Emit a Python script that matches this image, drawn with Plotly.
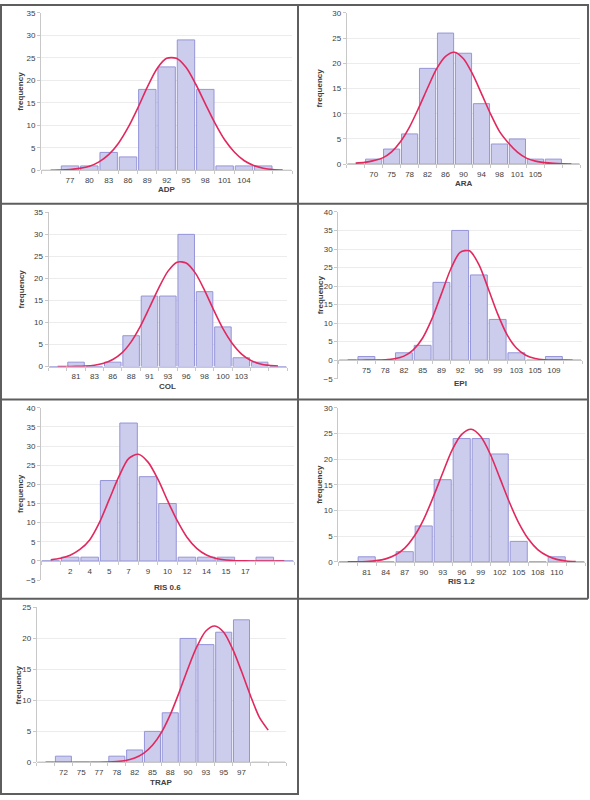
import plotly.graph_objects as go

W, H = 590, 800

# ---------------- data ----------------
# fitted-curve values are read at every half category (0, 0.5, 1, ... 12)
ADP_labels = ["", "77", "80", "83", "86", "89", "92", "95", "98", "101", "104", "", ""]
ADP_freq = [0, 1, 1, 4, 3, 18, 23, 29, 18, 1, 1, 1, 0]
ADP_curve = [0.03, 0.08, 0.2, 0.45, 0.9, 1.9, 3.5, 6.0, 9.5, 13.8, 18.5, 22.6, 24.9,
             24.9, 22.9, 19.2, 14.8, 10.5, 6.8, 4.1, 2.2, 1.1, 0.5, 0.2, 0.08]

ARA_labels = ["", "70", "75", "78", "82", "86", "90", "94", "98", "101", "105", "", ""]
ARA_freq = [0, 1, 3, 6, 19, 26, 22, 12, 4, 5, 1, 1, 0]
ARA_curve = [0.2, 0.35, 0.7, 1.25, 2.45, 4.5, 7.4, 11.1, 15.1, 18.9, 21.4, 22.2, 20.9,
             17.9, 14.0, 10.0, 6.5, 4.2, 2.4, 1.2, 0.6, 0.3, 0.15, 0.07, 0.03]

COL_labels = ["", "81", "83", "86", "88", "91", "93", "96", "98", "100", "103", "", ""]
COL_freq = [0, 1, 0, 1, 7, 16, 16, 30, 17, 9, 2, 1, 0]
COL_curve = [0.0, 0.01, 0.04, 0.11, 0.3, 0.73, 1.6, 3.1, 5.6, 9.1, 13.4, 17.8, 21.6,
             23.7, 23.5, 21.2, 17.3, 12.8, 8.6, 5.3, 2.9, 1.45, 0.66, 0.27, 0.1]

EPI_labels = ["", "75", "78", "82", "85", "89", "92", "96", "99", "103", "105", "109", ""]
EPI_freq = [0, 1, 0, 2, 4, 21, 35, 23, 11, 2, 0, 1, 0]
EPI_curve = [0.0, 0.0, 0.01, 0.03, 0.11, 0.38, 1.1, 2.8, 6.0, 11.2, 17.9, 24.6, 29.1,
             29.5, 25.8, 19.3, 12.5, 6.9, 3.3, 1.35, 0.47, 0.14, 0.04, 0.01, 0.0]

RIS06_labels = ["", "2", "4", "5", "7", "9", "10", "12", "14", "15", "17", "", ""]
RIS06_freq = [0, 1, 1, 21, 36, 22, 15, 1, 1, 1, 0, 1, 0]
RIS06_curve = [0.3, 0.7, 1.5, 3.0, 5.5, 10.0, 16.0, 22.0, 26.7, 27.85, 25.8, 21.4, 15.8,
               10.5, 6.2, 3.3, 1.55, 0.66, 0.25, 0.08, 0.02, 0.0, 0.0, 0.0, 0.0]

RIS12_labels = ["", "81", "84", "87", "90", "93", "96", "99", "102", "105", "108", "110", ""]
RIS12_freq = [0, 1, 0, 2, 7, 16, 24, 24, 21, 4, 0, 1, 0]
RIS12_curve = [0.01, 0.03, 0.1, 0.25, 0.6, 1.35, 2.7, 5.0, 8.3, 12.6, 17.3, 21.8, 24.8,
               25.8, 24.4, 21.0, 16.4, 11.7, 7.6, 4.5, 2.4, 1.2, 0.5, 0.2, 0.08]

TRAP_labels = ["", "72", "75", "77", "78", "82", "85", "88", "90", "93", "95", "97", "", ""]
TRAP_freq = [0, 1, 0, 0, 1, 2, 5, 8, 20, 19, 21, 23, 0, 0]
TRAP_curve = [0.0, 0.0, 0.0, 0.0, 0.0, 0.01, 0.02, 0.05, 0.13, 0.31, 0.7, 1.45, 2.76,
              4.8, 7.7, 11.3, 15.2, 18.7, 21.2, 22.0, 21.0, 18.3, 14.7, 10.8, 7.3]
TRAP_curve_end = 5.2

# ---------------- layout config (pixel boxes) ----------------
panels = [
    dict(title="ADP", labels=ADP_labels, freq=ADP_freq, curve=ADP_curve,
         yr=(0, 35), px=(41, 292.3), py=(9, 168.3), ytx=21, tty=188),
    dict(title="ARA", labels=ARA_labels, freq=ARA_freq, curve=ARA_curve,
         yr=(0, 30), px=(346.7, 580.3), py=(9, 162), ytx=320, tty=182),
    dict(title="COL", labels=COL_labels, freq=COL_freq, curve=COL_curve,
         yr=(0, 35), px=(48.5, 287.2), py=(210.7, 366.7), ytx=21, tty=387),
    dict(title="EPI", labels=EPI_labels, freq=EPI_freq, curve=EPI_curve,
         yr=(-5, 40), px=(338.3, 582), py=(210.3, 379), ytx=320, tty=384),
    dict(title="RIS 0.6", labels=RIS06_labels, freq=RIS06_freq, curve=RIS06_curve,
         yr=(-5, 40), px=(41, 294), py=(408.3, 582.7), ytx=21, tty=590),
    dict(title="RIS 1.2", labels=RIS12_labels, freq=RIS12_freq, curve=RIS12_curve,
         yr=(0, 30), px=(338.2, 585.2), py=(408.3, 564.3), ytx=320, tty=584),
    dict(title="TRAP", labels=TRAP_labels, freq=TRAP_freq, curve=TRAP_curve + [TRAP_curve_end],
         yr=(0, 25), px=(36.7, 286), py=(610.3, 767), ytx=18.5, tty=787.5),
]

FONT = "Liberation Sans Narrow, Liberation Sans, Arial, sans-serif"
BAR_FILL = "#ccccec"
BAR_EDGE = "#9595d8"
CURVE = "#e2285e"
AXIS_C = "#c8c8c8"
GRID_C = "#ececec"
TXT = "#404040"

fig = go.Figure()
layout = dict(width=W, height=H, margin=dict(l=0, r=0, t=0, b=0),
              paper_bgcolor="white", plot_bgcolor="white", showlegend=False,
              annotations=[], shapes=[])

for i, p in enumerate(panels, start=1):
    sfx = "" if i == 1 else str(i)
    xref, yref = "x" + sfx, "y" + sfx
    n = len(p["labels"])
    cats = list(range(n))
    curve_x = [k / 2 for k in range(len(p["curve"]))]
    fig.add_trace(go.Bar(x=cats, y=p["freq"], xaxis=xref, yaxis=yref, width=0.9,
                         marker=dict(color=BAR_FILL, line=dict(color=BAR_EDGE, width=1))))
    fig.add_trace(go.Scatter(x=curve_x, y=p["curve"], xaxis=xref, yaxis=yref,
                             mode="lines", line=dict(color=CURVE, width=1.6, shape="spline", smoothing=0.8)))
    x0, x1 = p["px"]
    yt, yb = p["py"]
    y0v, y1v = p["yr"]
    zero_px = yt + (y1v - 0) / (y1v - y0v) * (yb - yt)
    layout["xaxis" + sfx] = dict(
        domain=[x0 / W, x1 / W], range=[-0.5, n - 0.5], anchor="free",
        position=1 - zero_px / H, tickmode="array", tickvals=cats, ticktext=p["labels"],
        ticks="outside", ticklen=2, tickcolor="rgba(0,0,0,0)",
        showline=True, linecolor=AXIS_C, linewidth=1, showgrid=False, zeroline=False,
        tickfont=dict(family=FONT, size=8, color=TXT), fixedrange=True,
        minor=dict(tickvals=[c - 0.5 for c in range(n + 1)], ticks="outside", ticklen=3,
                   tickcolor=AXIS_C, showgrid=False),
    )
    layout["yaxis" + sfx] = dict(
        domain=[1 - yb / H, 1 - yt / H], range=[y0v, y1v], anchor=xref, dtick=5,
        showline=True, linecolor=AXIS_C, linewidth=1, showgrid=True, gridcolor=GRID_C,
        gridwidth=1, zeroline=False, ticks="outside", ticklen=3, tickcolor=AXIS_C,
        tickfont=dict(family=FONT, size=8, color=TXT), fixedrange=True,
    )
    layout["annotations"].append(dict(
        text="<b>%s</b>" % p["title"], x=(x0 + x1) / 2 / W, y=1 - p["tty"] / H,
        xref="paper", yref="paper", showarrow=False, xanchor="center", yanchor="middle",
        font=dict(family=FONT, size=8, color=TXT)))
    layout["annotations"].append(dict(
        text="<b>frequency</b>", x=p["ytx"] / W, y=1 - (yt + yb) / 2 / H,
        xref="paper", yref="paper", showarrow=False, textangle=-90,
        xanchor="center", yanchor="middle", font=dict(family=FONT, size=8, color=TXT)))

# panel border lines (pixel coordinates -> paper)
BORDER = "#5e5e5e"
segments = [
    (0, 1, 589, 1), (1, 0, 1, 800), (588, 0, 588, 601.5), (298, 0, 298, 800),
    (0, 202, 588, 202), (0, 400, 588, 400), (0, 601.5, 588, 601.5), (0, 799, 298, 799),
]
for (ax, ay, bx, by) in segments:
    layout["shapes"].append(dict(type="line", xref="paper", yref="paper",
                                 x0=ax / W, y0=1 - ay / H, x1=bx / W, y1=1 - by / H,
                                 line=dict(color=BORDER, width=2)))

fig.update_layout(**layout)
fig.write_html("out.html", config=dict(displayModeBar=False, staticPlot=True),
               post_script="document.body.style.margin='0px';document.body.style.overflow='hidden';")
